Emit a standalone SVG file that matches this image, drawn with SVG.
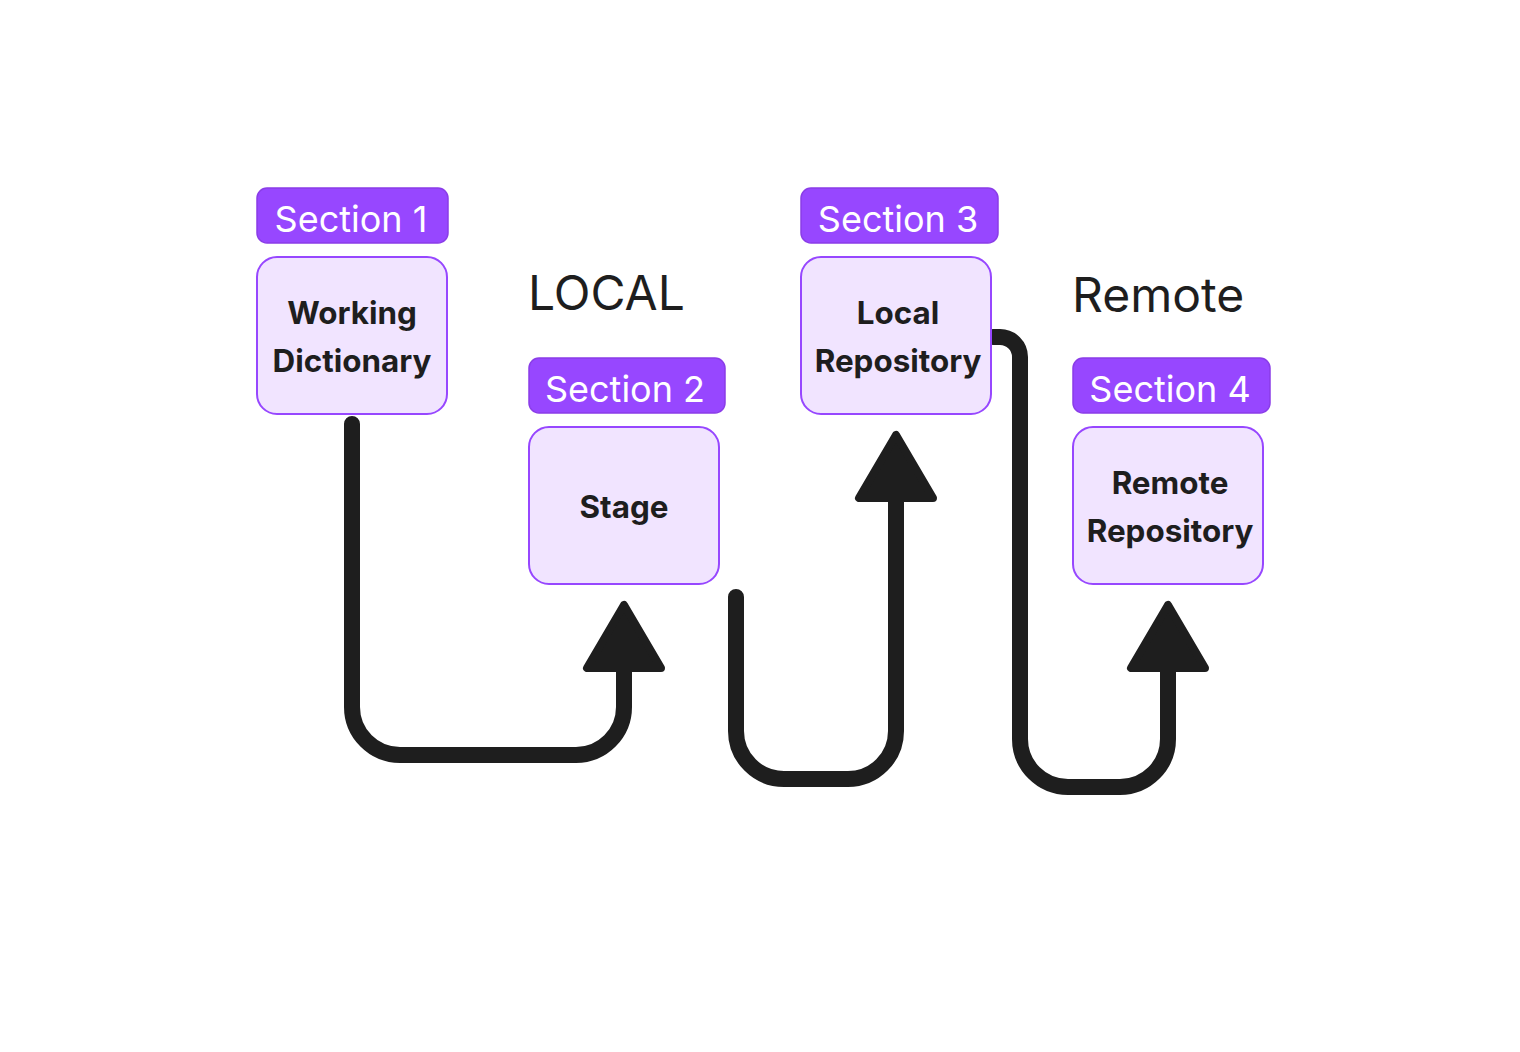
<svg xmlns="http://www.w3.org/2000/svg" width="1520" height="1052" viewBox="0 0 1520 1052">
<style>
.lbl{fill:#9747FF;stroke:#8A3DE8;stroke-width:1.5}
.lblt{font-family:Inter,"Liberation Sans",sans-serif;font-size:36px;fill:#FFFFFF;text-anchor:middle}
.box{fill:#F1E4FF;stroke:#9747FF;stroke-width:2}
.boxt{font-family:Inter,"Liberation Sans",sans-serif;font-size:31.4px;font-weight:700;fill:#1E1E1E;text-anchor:middle}
.title{font-family:Inter,"Liberation Sans",sans-serif;font-size:48px;fill:#1E1E1E}
.conn{fill:none;stroke:#1E1E1E;stroke-width:16;stroke-linecap:round;stroke-linejoin:round}
.head{fill:#1E1E1E;stroke:#1E1E1E;stroke-width:8;stroke-linejoin:round}
</style>
<rect width="1520" height="1052" fill="#FFFFFF"/>
<text class="title" x="528" y="310">LOCAL</text>
<text class="title" x="1072" y="312">Remote</text>
<g id="connectors">
<path class="conn" d="M352 424 V707 A48 48 0 0 0 400 755 H576 A48 48 0 0 0 624 707 V668"/>
<polygon class="head" points="624,605 587,668 661,668"/>
<path class="conn" d="M736 597 V731 A48 48 0 0 0 784 779 H848 A48 48 0 0 0 896 731 V498"/>
<polygon class="head" points="896,435 859,498 933,498"/>
<path class="conn" d="M993 337 H1000 A20 20 0 0 1 1020 357 V739 A48 48 0 0 0 1068 787 H1120 A48 48 0 0 0 1168 739 V668"/>
<polygon class="head" points="1168,605 1131,668 1205,668"/>
</g>
<g id="node1">
<rect class="lbl" x="257" y="188" width="191" height="55" rx="10"/>
<text class="lblt" x="351" y="232">Section 1</text>
<rect class="box" x="257" y="257" width="190" height="157" rx="20"/>
<text class="boxt" x="352" y="324">Working</text>
<text class="boxt" x="352" y="372">Dictionary</text>
</g>
<g id="node2">
<rect class="lbl" x="529" y="358" width="196" height="55" rx="10"/>
<text class="lblt" x="625" y="402">Section 2</text>
<rect class="box" x="529" y="427" width="190" height="157" rx="20"/>
<text class="boxt" x="624" y="518">Stage</text>
</g>
<g id="node3">
<rect class="lbl" x="801" y="188" width="197" height="55" rx="10"/>
<text class="lblt" x="898" y="232">Section 3</text>
<rect class="box" x="801" y="257" width="190" height="157" rx="20"/>
<text class="boxt" x="898" y="324">Local</text>
<text class="boxt" x="898" y="372">Repository</text>
</g>
<g id="node4">
<rect class="lbl" x="1073" y="358" width="197" height="55" rx="10"/>
<text class="lblt" x="1170" y="402">Section 4</text>
<rect class="box" x="1073" y="427" width="190" height="157" rx="20"/>
<text class="boxt" x="1170" y="494">Remote</text>
<text class="boxt" x="1170" y="542">Repository</text>
</g>
</svg>
